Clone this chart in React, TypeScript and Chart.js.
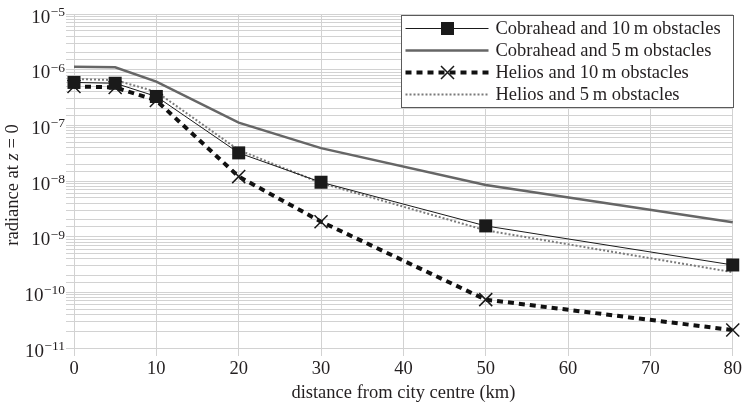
import React, { useEffect, useRef } from 'react';
import { Chart, registerables } from 'chart.js';

Chart.register(...registerables);

const distances = [0, 5, 10, 20, 30, 50, 80];
const cobra10 = [5.9e-7, 5.7e-7, 3.3e-7, 3.2e-8, 9.5e-9, 1.56e-9, 3.1e-10];
const cobra5 = [1.13e-6, 1.1e-6, 6.1e-7, 1.12e-7, 3.9e-8, 8.5e-9, 1.82e-9];
const helios10 = [5.0e-7, 4.8e-7, 2.8e-7, 1.2e-8, 1.86e-9, 7.4e-11, 2.1e-11];
const helios5 = [6.8e-7, 6.5e-7, 4.0e-7, 3.6e-8, 9.2e-9, 1.3e-9, 2.3e-10];
const seriesLabels = [
  'Cobrahead and 10\u2009m obstacles',
  'Cobrahead and 5\u2009m obstacles',
  'Helios and 10\u2009m obstacles',
  'Helios and 5\u2009m obstacles',
];
const yExponents = [-11, -10, -9, -8, -7, -6, -5];
const xTitle = 'distance from city centre (km)';
const yTitleParts = ['radiance at ', 'z', ' = 0'];

const FONT = '"Liberation Serif", "Times New Roman", serif';
const TEXT = '#231f20';
const GRID = '#d2d2d2';

type Style = {
  color: string;
  width: number;
  dash: number[];
  marker: 'rect' | 'crossRot' | null;
};
const styles: Style[] = [
  { color: '#1a1a1a', width: 1, dash: [], marker: 'rect' },
  { color: '#666666', width: 2.5, dash: [], marker: null },
  { color: '#111111', width: 4, dash: [6, 5], marker: 'crossRot' },
  { color: '#7a7a7a', width: 2, dash: [2, 2], marker: null },
];

function drawMarker(ctx: CanvasRenderingContext2D, m: Style['marker'], x: number, y: number) {
  if (m === 'rect') {
    ctx.fillStyle = '#1a1a1a';
    ctx.fillRect(x - 6.5, y - 6.5, 13, 13);
  } else if (m === 'crossRot') {
    ctx.strokeStyle = '#1a1a1a';
    ctx.lineWidth = 1.5;
    ctx.setLineDash([]);
    ctx.beginPath();
    ctx.moveTo(x - 6.5, y - 6.5);
    ctx.lineTo(x + 6.5, y + 6.5);
    ctx.moveTo(x + 6.5, y - 6.5);
    ctx.lineTo(x - 6.5, y + 6.5);
    ctx.stroke();
  }
}

const customPlugin = {
  id: 'customDecor',
  afterDatasetsDraw(chart: any) {
    const ctx: CanvasRenderingContext2D = chart.ctx;
    const area = chart.chartArea;
    const bw = 332;
    const bh = 92;
    const bx = Math.round(area.right - bw) + 0.5;
    const by = Math.round(area.top + 1) + 0.5;
    ctx.save();
    ctx.fillStyle = '#ffffff';
    ctx.fillRect(bx, by, bw, bh);
    ctx.strokeStyle = '#5a5a5a';
    ctx.lineWidth = 1;
    ctx.setLineDash([]);
    ctx.strokeRect(bx, by, bw, bh);
    seriesLabels.forEach((label, i) => {
      const s = styles[i];
      const ry = by + 13 + i * 22;
      ctx.strokeStyle = s.color;
      ctx.lineWidth = s.width;
      ctx.setLineDash(s.dash);
      ctx.beginPath();
      ctx.moveTo(bx + 4, ry);
      ctx.lineTo(bx + 87, ry);
      ctx.stroke();
      ctx.setLineDash([]);
      drawMarker(ctx, s.marker, bx + 46, ry);
      ctx.fillStyle = TEXT;
      ctx.font = `18.5px ${FONT}`;
      ctx.textAlign = 'left';
      ctx.textBaseline = 'middle';
      ctx.fillText(label, bx + 94, ry + 1);
    });
    ctx.restore();
  },
  afterDraw(chart: any) {
    const ctx: CanvasRenderingContext2D = chart.ctx;
    const yScale = chart.scales.y;
    const area = chart.chartArea;
    ctx.save();
    ctx.fillStyle = TEXT;
    ctx.textAlign = 'left';
    ctx.textBaseline = 'alphabetic';
    for (const e of yExponents) {
      const py = yScale.getPixelForValue(Math.pow(10, e));
      const exp = '\u2212' + Math.abs(e);
      ctx.font = `13.5px ${FONT}`;
      const we = ctx.measureText(exp).width;
      ctx.font = `19px ${FONT}`;
      const wb = ctx.measureText('10').width;
      const right = 65;
      ctx.fillText('10', right - we - wb - 0.5, py + 8.5);
      ctx.font = `13.5px ${FONT}`;
      ctx.fillText(exp, right - we, py + 2);
    }
    // y title with italic z
    const cy = (area.top + area.bottom) / 2 + 4;
    ctx.translate(13, cy);
    ctx.rotate(-Math.PI / 2);
    ctx.textBaseline = 'middle';
    const fonts = [`18.5px ${FONT}`, `italic 18.5px ${FONT}`, `18.5px ${FONT}`];
    let total = 0;
    const widths = yTitleParts.map((p, i) => {
      ctx.font = fonts[i];
      const w = ctx.measureText(p).width;
      total += w;
      return w;
    });
    let x = -total / 2;
    yTitleParts.forEach((p, i) => {
      ctx.font = fonts[i];
      ctx.fillText(p, x, 0);
      x += widths[i];
    });
    ctx.restore();
  },
};

export default function App() {
  const canvasRef = useRef<HTMLCanvasElement | null>(null);

  useEffect(() => {
    const canvas = canvasRef.current;
    if (!canvas) return;
    const seriesData = [cobra10, cobra5, helios10, helios5];
    const chart = new Chart(canvas, {
      type: 'line',
      data: {
        datasets: seriesData.map((vals, i) => {
          const s = styles[i];
          return {
            label: seriesLabels[i],
            data: distances.map((d, j) => ({ x: d, y: vals[j] })),
            borderColor: s.color,
            borderWidth: s.width,
            borderDash: s.dash,
            backgroundColor: '#1a1a1a',
            pointStyle: s.marker || 'circle',
            pointRadius: s.marker ? 9.2 : 0,
            pointHoverRadius: s.marker ? 9.2 : 0,
            pointBackgroundColor: '#1a1a1a',
            pointBorderColor: '#1a1a1a',
            pointBorderWidth: s.marker === 'crossRot' ? 1.5 : 0,
            tension: 0,
            fill: false,
            clip: false as any,
          };
        }),
      },
      options: {
        animation: false,
        responsive: false,
        devicePixelRatio: 1,
        layout: { padding: { top: 14, right: 10, left: 0, bottom: 0 } },
        plugins: {
          legend: { display: false },
          tooltip: { enabled: false },
          title: { display: false },
        },
        scales: {
          x: {
            type: 'linear',
            min: 0,
            max: 80,
            border: { display: false },
            grid: { color: GRID, lineWidth: 1, tickLength: 8, drawTicks: true },
            ticks: {
              stepSize: 10,
              color: TEXT,
              padding: 2,
              font: { family: FONT, size: 18.5 },
              maxRotation: 0,
            },
            title: {
              display: true,
              text: xTitle,
              color: TEXT,
              font: { family: FONT, size: 18.5 },
              padding: { top: 0, bottom: 0 },
            },
            afterFit: (scale: any) => {
              scale.height = 56;
            },
          },
          y: {
            type: 'logarithmic',
            min: 1e-11,
            max: 1e-5,
            border: { display: false },
            grid: { color: GRID, lineWidth: 1, tickLength: 8, drawTicks: true },
            ticks: {
              display: false,
              autoSkip: false,
              callback: () => '',
            },
            afterFit: (scale: any) => {
              scale.width = 74;
            },
          },
        },
      },
      plugins: [customPlugin],
    });
    return () => chart.destroy();
  }, []);

  return (
    <div style={{ position: 'fixed', left: 0, top: 0, width: 744, height: 404, background: '#fff' }}>
      <canvas ref={canvasRef} width={744} height={404} />
    </div>
  );
}
